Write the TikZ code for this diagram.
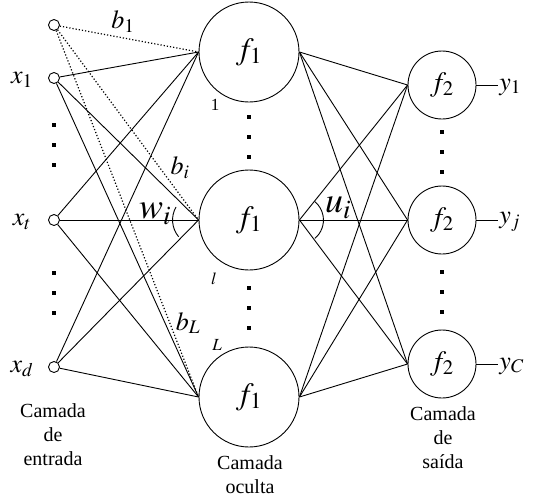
\documentclass[tikz,border=0pt]{standalone}
\usepackage{mathptmx}
\usepackage[no-math]{fontspec}
\setmainfont{Liberation Serif}
\begin{document}
\begin{tikzpicture}[x=1pt,y=-1pt,line width=0.9pt,
  inp/.style={circle,draw,minimum size=11pt,inner sep=0pt},
  hid/.style={circle,draw,minimum size=100pt,inner sep=0pt,font=\fontsize{31}{34}\selectfont},
  outn/.style={circle,draw,minimum size=68pt,inner sep=0pt,font=\fontsize{28}{32}\selectfont},
  lab/.style={font=\fontsize{26}{30}\selectfont,inner sep=1pt},
  big/.style={font=\fontsize{36}{40}\selectfont,inner sep=0pt},
  small/.style={font=\fontsize{17}{20}\selectfont,inner sep=0pt},
  captext/.style={align=center,font=\fontsize{20}{24}\selectfont,inner sep=0pt},
  bias/.style={dotted,line width=1.2pt},
  dotmark/.style={fill,minimum size=3.6pt,inner sep=0pt}]
\useasboundingbox (0,0) rectangle (533,499);
% input nodes
\node[inp] (b) at (54,25) {};
\node[inp] (x1) at (54,78) {};
\node[inp] (xt) at (54,220) {};
\node[inp] (xd) at (54,367) {};
% hidden
\node[hid] (h1) at (249,52) {$f_1$};
\node[hid] (h2) at (249,220) {$f_1$};
\node[hid] (h3) at (249,397) {$f_1$};
% output
\node[outn] (o1) at (442,85) {$f_2$};
\node[outn] (o2) at (442,220) {$f_2$};
\node[outn] (o3) at (442,364) {$f_2$};
% connections input-hidden
\foreach \i in {x1,xt,xd}{
  \foreach \h in {h1,h2,h3}{
    \draw (\i) -- (\h.west);
  }
}
\foreach \h in {h1,h2,h3}{
  \draw[bias] (b) -- (\h.west);
}
% hidden-output
\foreach \h in {h1,h2,h3}{
  \foreach \o in {o1,o2,o3}{
    \draw (\h.east) -- (\o.west);
  }
}
% outputs
\node[lab,anchor=west] (y1) at (498,87) {$y_1$};
\node[lab,anchor=west] (yj) at (498,222) {$y_j$};
\node[lab,anchor=west] (yc) at (498,366) {$y_C$};
\draw (o1.east) -- (y1.west|-o1.east);
\draw (o2.east) -- (yj.west|-o2.east);
\draw (o3.east) -- (yc.west|-o3.east);
% input labels
\node[lab] (lx1) at (22,80) {$x_1$};
\node[lab] (lxt) at (22,222) {$x_t$};
\node[lab] (lxd) at (22,369) {$x_d$};
% bias labels
\node[lab] (lb1) at (123,22) {$b_1$};
\node[lab] (lbi) at (180,168) {$b_i$};
\node[lab] (lbL) at (188,323) {$b_L$};
% weight labels and arcs
\node[big] (lw) at (155,214) {$w_i$};
\node[big] (lu) at (338,208) {$u_i$};
\draw ([shift={(150:26pt)}]h2.west) arc[start angle=150,end angle=220,radius=26pt];
\draw ([shift={(-50:24pt)}]h2.east) arc[start angle=-50,end angle=50,radius=24pt];
% index labels
\node[small] (n1) at (215,105) {1};
\node[small] (nl) at (214,279) {$l$};
\node[small] (nL) at (217,345) {$L$};
% dots
\foreach \y in {125,145,165,273,293,313}{
  \node[dotmark] at (54,\y) {};
}
\foreach \y in {117,137,157,288,308,328}{
  \node[dotmark] at (249,\y) {};
}
\foreach \y in {132,152,172,272,292,312}{
  \node[dotmark] at (442,\y) {};
}
% captions
\node[captext] (c1) at (53,435) {Camada\\de\\entrada};
\node[captext] (c2) at (250,475) {Camada\\oculta};
\node[captext] (c3) at (443,438) {Camada\\de\\saída};
\end{tikzpicture}
\end{document}
